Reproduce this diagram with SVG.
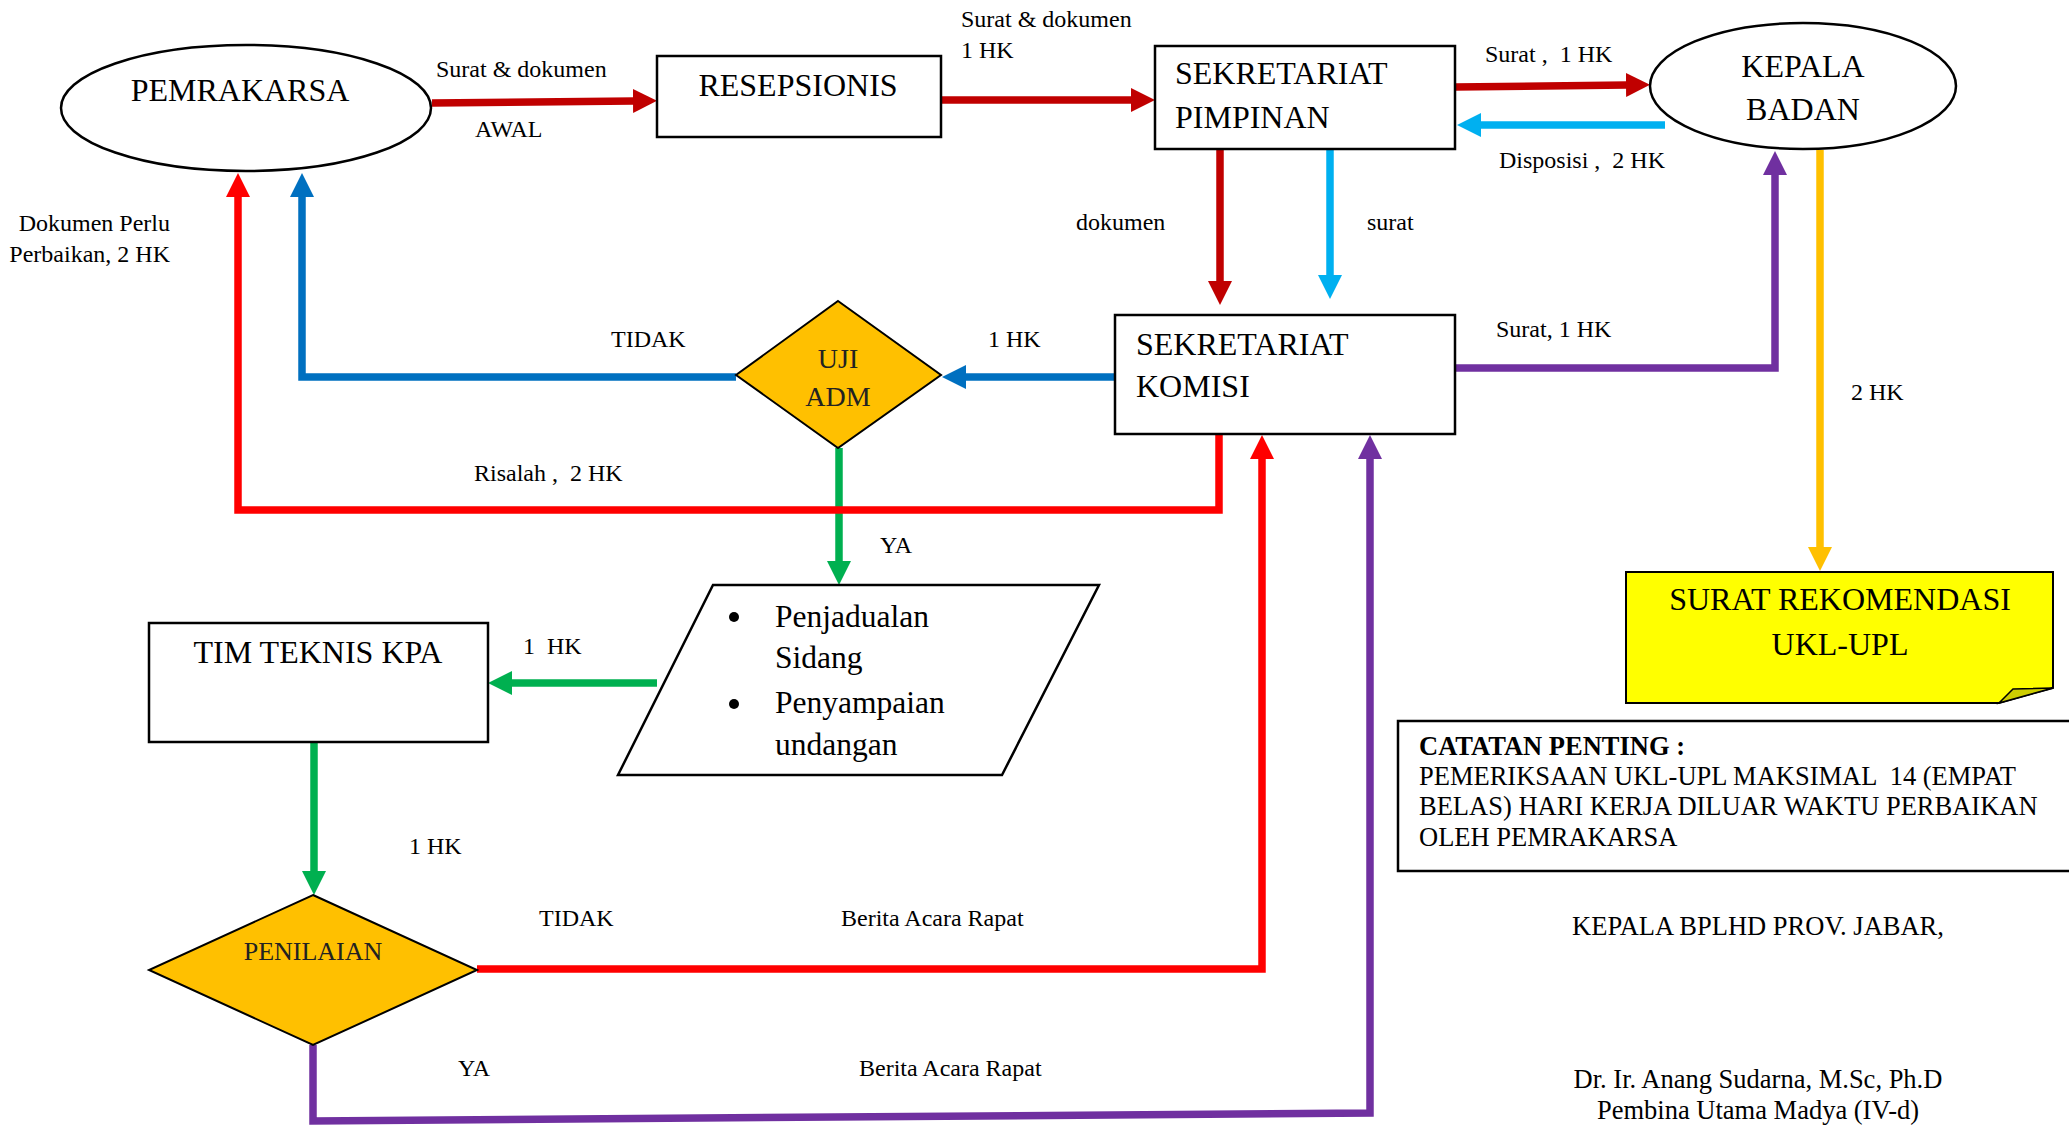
<svg xmlns="http://www.w3.org/2000/svg" width="2069" height="1125" viewBox="0 0 2069 1125">
<style>
text{font-family:"Liberation Serif","Times New Roman",serif;fill:#000}
.n{font-size:32px}
.p{font-size:31.5px}
.s{font-size:24px}
.m{font-size:26.5px}
.c{text-anchor:middle}
.box{fill:#fff;stroke:#000;stroke-width:2.5}
.con{fill:none;stroke-width:7.5;stroke-linejoin:miter}
</style>
<defs>
<marker id="aDR" markerUnits="userSpaceOnUse" markerWidth="25" markerHeight="24" refX="1" refY="12" orient="auto"><path d="M0,0 L24,12 L0,24 z" fill="#C00000"/></marker>
<marker id="aR" markerUnits="userSpaceOnUse" markerWidth="25" markerHeight="24" refX="1" refY="12" orient="auto"><path d="M0,0 L24,12 L0,24 z" fill="#FF0000"/></marker>
<marker id="aB" markerUnits="userSpaceOnUse" markerWidth="25" markerHeight="24" refX="1" refY="12" orient="auto"><path d="M0,0 L24,12 L0,24 z" fill="#0070C0"/></marker>
<marker id="aLB" markerUnits="userSpaceOnUse" markerWidth="25" markerHeight="24" refX="1" refY="12" orient="auto"><path d="M0,0 L24,12 L0,24 z" fill="#00B0F0"/></marker>
<marker id="aG" markerUnits="userSpaceOnUse" markerWidth="25" markerHeight="24" refX="1" refY="12" orient="auto"><path d="M0,0 L24,12 L0,24 z" fill="#00B050"/></marker>
<marker id="aP" markerUnits="userSpaceOnUse" markerWidth="25" markerHeight="24" refX="1" refY="12" orient="auto"><path d="M0,0 L24,12 L0,24 z" fill="#7030A0"/></marker>
<marker id="aO" markerUnits="userSpaceOnUse" markerWidth="25" markerHeight="24" refX="1" refY="12" orient="auto"><path d="M0,0 L24,12 L0,24 z" fill="#FFC000"/></marker>
</defs>

<g id="connectors">
<path class="con" stroke="#C00000" d="M432,103 L634,101" marker-end="url(#aDR)"/>
<path class="con" stroke="#C00000" d="M941,100 L1132,100" marker-end="url(#aDR)"/>
<path class="con" stroke="#C00000" d="M1455,87 L1627,85" marker-end="url(#aDR)"/>
<path class="con" stroke="#00B0F0" d="M1665,125 L1480,125" marker-end="url(#aLB)"/>
<path class="con" stroke="#C00000" d="M1220,149 L1220,282" marker-end="url(#aDR)"/>
<path class="con" stroke="#00B0F0" d="M1330,145 L1330,276" marker-end="url(#aLB)"/>
<path class="con" stroke="#7030A0" d="M1455,368 L1775,368 L1775,174" marker-end="url(#aP)"/>
<path class="con" stroke="#FFC000" stroke-width="9" d="M1820,150 L1820,548" marker-end="url(#aO)"/>
<path class="con" stroke="#0070C0" d="M1115,377 L965,377" marker-end="url(#aB)"/>
<path class="con" stroke="#0070C0" d="M736,377 L302,377 L302,196" marker-end="url(#aB)"/>
<path class="con" stroke="#00B050" d="M839,448 L839,562" marker-end="url(#aG)"/>
<path class="con" stroke="#FF0000" d="M1219,434 L1219,510 L238,510 L238,196" marker-end="url(#aR)"/>
<path class="con" stroke="#00B050" stroke-width="8" d="M657,683 L511,683" marker-end="url(#aG)"/>
<path class="con" stroke="#00B050" d="M314,742 L314,872" marker-end="url(#aG)"/>
<path class="con" stroke="#FF0000" d="M477,969 L1262,969 L1262,458" marker-end="url(#aR)"/>
<path class="con" stroke="#7030A0" d="M313,1045 L313,1121 L1370,1113 L1370,458" marker-end="url(#aP)"/>
</g>

<g id="labels">
<text class="s" x="436" y="77">Surat &amp; dokumen</text>
<text class="s" x="475" y="137">AWAL</text>
<text class="s" x="961" y="27">Surat &amp; dokumen</text>
<text class="s" x="961" y="58">1 HK</text>
<text class="s" x="1485" y="62" xml:space="preserve">Surat ,  1 HK</text>
<text class="s" x="1499" y="168" xml:space="preserve">Disposisi ,  2 HK</text>
<text class="s" x="1076" y="230">dokumen</text>
<text class="s" x="1367" y="230">surat</text>
<text class="s" x="170" y="231" text-anchor="end">Dokumen Perlu</text>
<text class="s" x="170" y="262" text-anchor="end">Perbaikan, 2 HK</text>
<text class="s" x="611" y="347">TIDAK</text>
<text class="s" x="988" y="347">1 HK</text>
<text class="s" x="1496" y="337">Surat, 1 HK</text>
<text class="s" x="1851" y="400">2 HK</text>
<text class="s" x="474" y="481" xml:space="preserve">Risalah ,  2 HK</text>
<text class="s" x="880" y="553">YA</text>
<text class="s" x="523" y="654" xml:space="preserve">1  HK</text>
<text class="s" x="409" y="854">1 HK</text>
<text class="s" x="539" y="926">TIDAK</text>
<text class="s" x="841" y="926">Berita Acara Rapat</text>
<text class="s" x="458" y="1076">YA</text>
<text class="s" x="859" y="1076">Berita Acara Rapat</text>
</g>

<g id="pemrakarsa">
<ellipse class="box" cx="246" cy="108" rx="185" ry="63"/>
<text class="n c" x="240" y="101">PEMRAKARSA</text>
</g>

<g id="resepsionis">
<rect class="box" x="657" y="56" width="284" height="81"/>
<text class="n c" x="798" y="96">RESEPSIONIS</text>
</g>

<g id="sekretariat-pimpinan">
<rect class="box" x="1155" y="46" width="300" height="103"/>
<text class="n" x="1175" y="84">SEKRETARIAT</text>
<text class="n" x="1175" y="128">PIMPINAN</text>
</g>

<g id="kepala-badan">
<ellipse class="box" cx="1803" cy="86" rx="153" ry="63"/>
<text class="n c" x="1803" y="77">KEPALA</text>
<text class="n c" x="1803" y="120">BADAN</text>
</g>

<g id="sekretariat-komisi">
<rect class="box" x="1115" y="315" width="340" height="119"/>
<text class="n" x="1136" y="355">SEKRETARIAT</text>
<text class="n" x="1136" y="397">KOMISI</text>
</g>

<g id="uji-adm">
<polygon points="838,301 941,375 838,448 736,375" fill="#FFC000" stroke="#000" stroke-width="2"/>
<text class="c" x="838" y="368" font-size="28" style="fill:#222">UJI</text>
<text class="c" x="838" y="406" font-size="28" style="fill:#222">ADM</text>
</g>

<g id="penjadualan">
<polygon class="box" points="713,585 1099,585 1002,775 618,775"/>
<circle cx="734" cy="617" r="5"/>
<text class="p" x="775" y="627">Penjadualan</text>
<text class="p" x="775" y="668">Sidang</text>
<circle cx="734" cy="704" r="5"/>
<text class="p" x="775" y="713">Penyampaian</text>
<text class="p" x="775" y="755">undangan</text>
</g>

<g id="tim-teknis">
<rect class="box" x="149" y="623" width="339" height="119"/>
<text class="n c" x="318" y="663">TIM TEKNIS KPA</text>
</g>

<g id="penilaian">
<polygon points="313,895 477,970 313,1045 149,970" fill="#FFC000" stroke="#000" stroke-width="2"/>
<text class="c" x="313" y="960" font-size="26" style="fill:#222">PENILAIAN</text>
</g>

<g id="surat-rekomendasi">
<path d="M1626,572 L2053,572 L2053,688 L1999,703 L1626,703 Z" fill="#FFFF00" stroke="#000" stroke-width="2"/>
<path d="M1999,703 L2013,689 L2053,688 Z" fill="#CDCD00" stroke="#000" stroke-width="1.5"/>
<text class="n c" x="1840" y="610">SURAT REKOMENDASI</text>
<text class="n c" x="1840" y="655">UKL-UPL</text>
</g>

<g id="catatan">
<rect class="box" x="1398" y="721" width="675" height="150"/>
<text class="m" x="1419" y="755" font-weight="bold">CATATAN PENTING :</text>
<text class="m" x="1419" y="785" xml:space="preserve">PEMERIKSAAN UKL-UPL MAKSIMAL  14 (EMPAT</text>
<text class="m" x="1419" y="815">BELAS) HARI KERJA DILUAR WAKTU PERBAIKAN</text>
<text class="m" x="1419" y="846">OLEH PEMRAKARSA</text>
</g>

<g id="signature">
<text class="m c" x="1758" y="935">KEPALA BPLHD PROV. JABAR,</text>
<text class="m c" x="1758" y="1088">Dr. Ir. Anang Sudarna, M.Sc, Ph.D</text>
<text class="m c" x="1758" y="1119">Pembina Utama Madya (IV-d)</text>
</g>
</svg>
